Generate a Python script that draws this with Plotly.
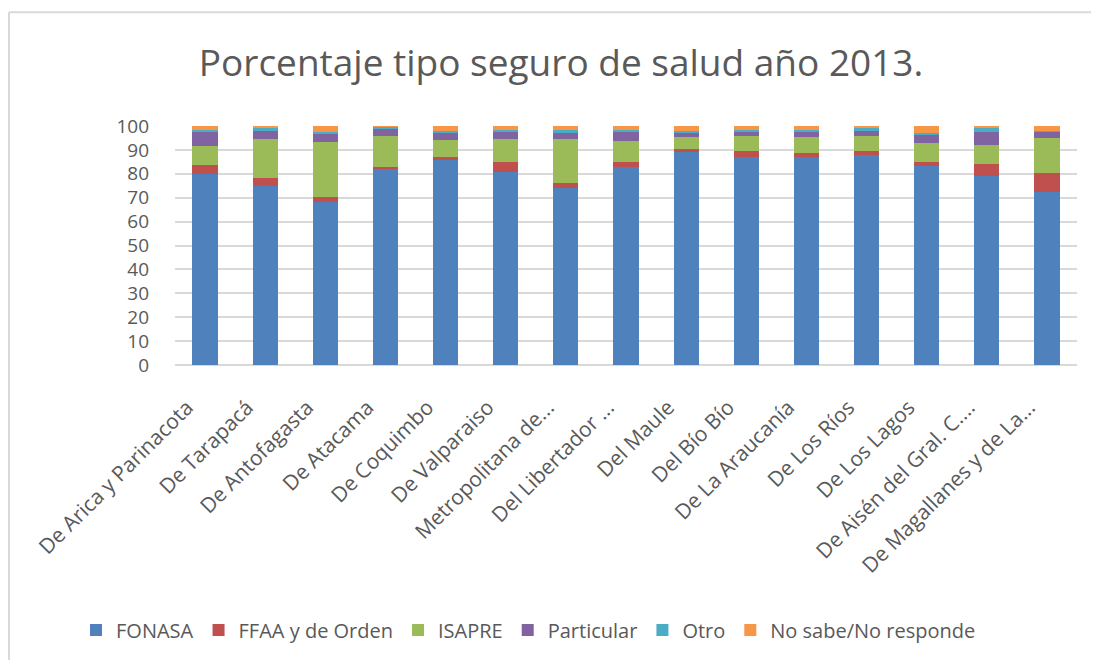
import plotly.graph_objects as go

regions = ["De Arica y Parinacota", "De Tarapacá", "De Antofagasta", "De Atacama",
           "De Coquimbo", "De Valparaiso", "Metropolitana de...", "Del Libertador ...",
           "Del Maule", "Del Bío Bío", "De La Araucanía", "De Los Ríos", "De Los Lagos",
           "De Aisén del Gral. C....", "De Magallanes y de La..."]

fonasa     = [79.8, 75.0, 68.1, 82.3, 85.8, 80.9, 74.2, 83.0, 89.0, 87.2, 87.2, 87.9, 83.4, 79.1, 72.3]
ffaa       = [3.9, 3.2, 2.0, 0.7, 1.4, 3.9, 1.9, 1.8, 1.4, 2.5, 1.4, 1.8, 1.4, 5.0, 8.2]
isapre     = [8.1, 16.4, 23.3, 12.8, 6.8, 9.8, 18.5, 9.1, 4.9, 6.1, 6.7, 6.1, 8.0, 8.0, 14.6]
particular = [6.1, 3.3, 3.1, 3.2, 3.1, 3.0, 2.5, 3.9, 1.8, 1.8, 2.2, 2.4, 3.7, 5.5, 2.5]
otro       = [0.4, 1.1, 1.1, 0.6, 0.8, 0.7, 1.2, 0.5, 0.8, 0.7, 0.8, 0.8, 0.7, 1.5, 0.5]
no_sabe    = [1.7, 1.0, 2.4, 0.4, 2.1, 1.7, 1.7, 1.7, 2.1, 1.7, 2.1, 1.0, 2.8, 1.0, 1.7]

series_names = ["FONASA", "FFAA y de Orden", "ISAPRE", "Particular", "Otro", "No sabe/No responde"]
series_vals = [fonasa, ffaa, isapre, particular, otro, no_sabe]
colors = ["#4F81BD", "#C0504D", "#9BBB59", "#8064A2", "#4BACC6", "#F79646"]
y_ticks = [0, 10, 20, 30, 40, 50, 60, 70, 80, 90, 100]

FONT = "Open Sans, Noto Sans, sans-serif"
TXT = "#595959"
OFF = 8  # page body margin

fig = go.Figure()
for name, vals, col in zip(series_names, series_vals, colors):
    fig.add_trace(go.Bar(x=regions, y=vals, name=name, marker=dict(color=col, line=dict(width=0))))

W, H = 1099 - 2 * OFF, 669 - 2 * OFF
L = 175 - OFF
T = 126 - OFF
bottom = 365.5 - OFF
right = 1077 - OFF
R = W - right
B = H - bottom
pw = W - L - R
ph = H - T - B

fig.update_layout(
    width=W, height=H,
    barmode="stack", bargap=0.58,
    plot_bgcolor="white", paper_bgcolor="white",
    margin=dict(l=L, r=R, t=T, b=B, autoexpand=False),
    title=dict(text="Porcentaje tipo seguro de salud año 2013.",
               x=(561 - OFF) / W, xanchor="center", y=1 - (63 - OFF) / H, yanchor="middle",
               font=dict(family=FONT, size=37, color=TXT)),
    font=dict(family=FONT, color=TXT),
    legend=dict(orientation="h", xref="container", x=(92 - OFF - 16) / W, xanchor="left",
                yref="container", y=1 - (630 - OFF) / H, yanchor="middle",
                font=dict(family=FONT, size=20, color=TXT), traceorder="normal",
                itemwidth=30, tracegroupgap=0),
    xaxis=dict(tickangle=-45, tickfont=dict(family=FONT, size=21, color=TXT),
               showgrid=False, showline=False, ticks="", automargin=False,
               ticklabelstandoff=25, ticklabelshift=-18),
    yaxis=dict(range=[0, 100], tickvals=y_ticks, tickfont=dict(family=FONT, size=19, color=TXT),
               showgrid=True, gridcolor="#D9D9D9", gridwidth=1.5, zeroline=True,
               zerolinecolor="#D9D9D9", zerolinewidth=1.5, ticks="", automargin=False,
               ticklabelstandoff=25),
    shapes=[
        dict(type="line", xref="paper", yref="paper",
             x0=(1 - L) / pw, x1=(1 - L) / pw, y0=(bottom - H) / ph, y1=(bottom - 4) / ph,
             line=dict(color="#D9D9D9", width=2), layer="below"),
        dict(type="line", xref="paper", yref="paper",
             x0=(1 - L) / pw, x1=(W - L) / pw, y0=(bottom - 4) / ph, y1=(bottom - 4) / ph,
             line=dict(color="#D9D9D9", width=2), layer="below"),
    ],
)
fig.write_html("out.html")
